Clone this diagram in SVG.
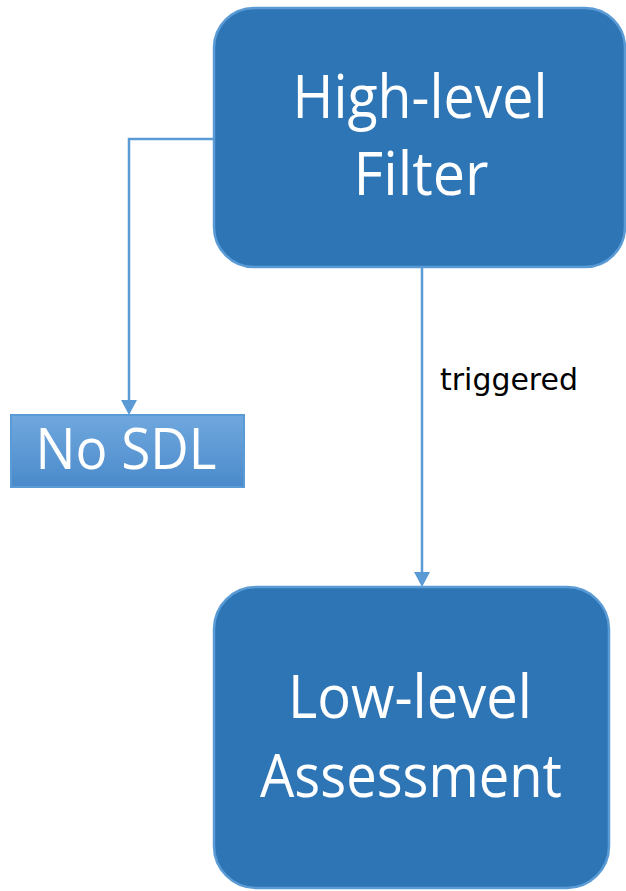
<svg xmlns="http://www.w3.org/2000/svg" width="626" height="891" viewBox="0 0 626 891">
  <style>
    .box { fill: #2e75b6; stroke: #5b9bd5; stroke-width: 2.5; }
    .big { font-family: "Open Sans", "Liberation Sans", sans-serif; fill: #ffffff; text-anchor: middle; }
    .edge { fill: none; stroke: #5b9bd5; stroke-width: 2.5; }
    .lbl { font-family: "DejaVu Sans", "Liberation Sans", sans-serif; font-size: 30px; fill: #000000; }
  </style>
  <defs>
    <linearGradient id="gradNo" x1="0" y1="0" x2="0" y2="1">
      <stop offset="0" stop-color="#70a8de"/>
      <stop offset="1" stop-color="#4a8acb"/>
    </linearGradient>
  </defs>

  <g id="connectors">
    <path class="edge" d="M214,139 H129 V402"/>
    <path d="M121,400 L137,400 L129,415 Z" fill="#5b9bd5"/>
    <path class="edge" d="M422,267 V574"/>
    <path d="M414,572 L430,572 L422,587 Z" fill="#5b9bd5"/>
    <text class="lbl" x="440" y="390" textLength="138" lengthAdjust="spacingAndGlyphs">triggered</text>
  </g>

  <g id="high-level-filter">
    <rect class="box" x="214" y="8" width="411" height="259" rx="40" ry="40"/>
    <text class="big" x="420" y="118" font-size="60" textLength="255" lengthAdjust="spacingAndGlyphs">High-level</text>
    <text class="big" x="421" y="195" font-size="60" textLength="135" lengthAdjust="spacingAndGlyphs">Filter</text>
  </g>

  <g id="no-sdl">
    <rect x="11" y="415" width="233" height="72" fill="url(#gradNo)" stroke="#5b9bd5" stroke-width="2"/>
    <text class="big" x="126" y="469" font-size="56" textLength="181" lengthAdjust="spacingAndGlyphs">No SDL</text>
  </g>

  <g id="low-level-assessment">
    <rect class="box" x="214" y="587" width="395" height="301" rx="42" ry="42"/>
    <text class="big" x="410" y="718" font-size="60" textLength="244" lengthAdjust="spacingAndGlyphs">Low-level</text>
    <text class="big" x="411" y="797" font-size="60" textLength="302" lengthAdjust="spacingAndGlyphs">Assessment</text>
  </g>
</svg>
